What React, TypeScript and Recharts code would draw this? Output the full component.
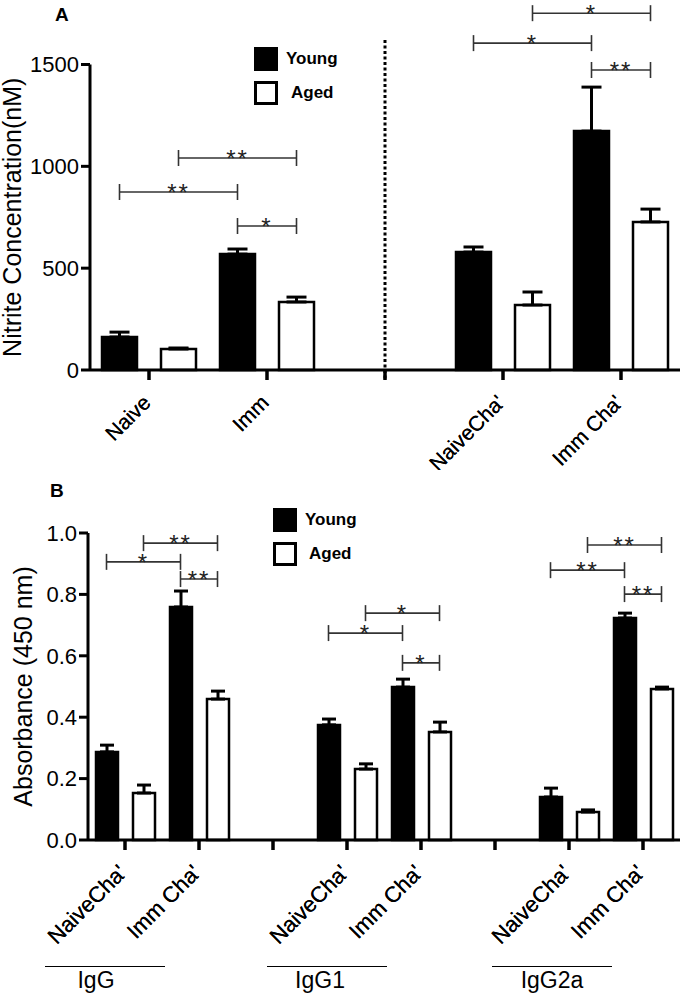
import { BarChart, Bar, XAxis, YAxis, Cell, ErrorBar, ReferenceLine, Legend } from 'recharts';

const FONT = "'Liberation Sans', Arial, Helvetica, sans-serif";
const AGES = ['Young', 'Aged'];

// ---- Panel A: nitrite concentration ----
const slotsA = ['Naive', 'Imm', 'gap', "NaiveCha'", "Imm Cha'"];
const youngA = [162, 569, 579, 1173];
const youngSemA = [24, 25, 25, 216];
const agedA = [103, 334, 319, 727];
const agedSemA = [5, 24, 64, 63];
const ticksA = [0, 500, 1000, 1500];
const sigA = [
  { from: 'Naive#Young', to: 'Imm#Young', y: 874, mark: '**' },
  { from: 'Naive#Aged', to: 'Imm#Aged', y: 1041, mark: '**' },
  { from: 'Imm#Young', to: 'Imm#Aged', y: 707, mark: '*' },
  { from: "NaiveCha'#Young", to: "Imm Cha'#Young", y: 1605, mark: '*' },
  { from: "NaiveCha'#Aged", to: "Imm Cha'#Aged", y: 1752, mark: '*' },
  { from: "Imm Cha'#Young", to: "Imm Cha'#Aged", y: 1473, mark: '**' },
];

// ---- Panel B: absorbance ----
const isotypesB = ['IgG', 'IgG1', 'IgG2a'];
const conditionsB = ["NaiveCha'", "Imm Cha'"];
const youngB = [0.287, 0.759, 0.375, 0.498, 0.14, 0.723];
const youngSemB = [0.022, 0.052, 0.019, 0.026, 0.029, 0.016];
const agedB = [0.153, 0.459, 0.231, 0.352, 0.091, 0.492];
const agedSemB = [0.026, 0.026, 0.017, 0.032, 0.007, 0.006];
const ticksB = [0, 0.2, 0.4, 0.6, 0.8, 1.0];
const sigB = [
  { from: "IgG|NaiveCha'#Young", to: "IgG|Imm Cha'#Young", y: 0.906, mark: '*' },
  { from: "IgG|NaiveCha'#Aged", to: "IgG|Imm Cha'#Aged", y: 0.967, mark: '**' },
  { from: "IgG|Imm Cha'#Young", to: "IgG|Imm Cha'#Aged", y: 0.85, mark: '**' },
  { from: "IgG1|NaiveCha'#Young", to: "IgG1|Imm Cha'#Young", y: 0.674, mark: '*' },
  { from: "IgG1|NaiveCha'#Aged", to: "IgG1|Imm Cha'#Aged", y: 0.739, mark: '*' },
  { from: "IgG1|Imm Cha'#Young", to: "IgG1|Imm Cha'#Aged", y: 0.577, mark: '*' },
  { from: "IgG2a|NaiveCha'#Young", to: "IgG2a|Imm Cha'#Young", y: 0.879, mark: '**' },
  { from: "IgG2a|NaiveCha'#Aged", to: "IgG2a|Imm Cha'#Aged", y: 0.961, mark: '**' },
  { from: "IgG2a|Imm Cha'#Young", to: "IgG2a|Imm Cha'#Aged", y: 0.801, mark: '**' },
];
const slotsB = isotypesB.flatMap((iso, i) => [
  ...conditionsB.map((c) => `${iso}|${c}`),
  ...(i < isotypesB.length - 1 ? [`gap${i}`] : []),
]);
const isoLineX = [45, 267, 492];
const isoTextX = [96, 320, 552];

type Row = { bar: string; slot: string; age: string; value: number | null; err: number[] | null };

function buildRows(slots: string[], young: number[], youngSem: number[], aged: number[], agedSem: number[]) {
  const rows: Row[] = [];
  let k = 0;
  slots.forEach((slot) => {
    const gap = slot.startsWith('gap');
    AGES.forEach((age) => {
      const v = gap ? null : age === 'Young' ? young[k] : aged[k];
      const e = gap ? null : age === 'Young' ? youngSem[k] : agedSem[k];
      rows.push({ bar: `${slot}#${age}`, slot, age, value: v, err: e == null ? null : [0, e] });
    });
    if (!gap) k++;
  });
  return rows;
}

const slotLabel = (s: string) => (s.startsWith('gap') ? '' : s.split('|').pop());

const SlotTick = (props: any) => {
  const { x, y, payload, fs } = props;
  const ax = x + 3;
  const ay = y + 22;
  return (
    <text x={ax} y={ay} textAnchor="end" transform={`rotate(-45, ${ax}, ${ay})`} fontSize={fs} fontFamily={FONT} fill="#000">
      {slotLabel(payload.value)}
    </text>
  );
};

const bracket = (mark: string) => (props: any) => {
  const { x1, x2, y1 } = props;
  return (
    <g>
      <line x1={x1} y1={y1} x2={x2} y2={y1} stroke="#333" strokeWidth={1.6} />
      <line x1={x1} y1={y1 - 8} x2={x1} y2={y1 + 8} stroke="#333" strokeWidth={1.6} />
      <line x1={x2} y1={y1 - 8} x2={x2} y2={y1 + 8} stroke="#333" strokeWidth={1.6} />
      <text x={(x1 + x2) / 2} y={y1 + 9} textAnchor="middle" fontSize={24} letterSpacing={2} fontFamily={FONT} fill="#222">
        {mark}
      </text>
    </g>
  );
};

const LegendBox = ({ textGap }: { textGap: number[] }) => (
  <div style={{ fontFamily: FONT, fontWeight: 'bold', fontSize: 17, color: '#000' }}>
    {AGES.map((age, i) => (
      <div key={age} style={{ display: 'flex', alignItems: 'center', height: 24, marginBottom: 10 }}>
        <div
          style={{
            width: 18,
            height: 18,
            border: '3px solid #000',
            background: age === 'Young' ? '#000' : '#fff',
          }}
        />
        <span style={{ marginLeft: textGap[i] }}>{age}</span>
      </div>
    ))}
  </div>
);

function Panel(p: any) {
  const rows = buildRows(p.slots, p.young, p.youngSem, p.aged, p.agedSem);
  return (
    <div style={{ position: 'absolute', left: 0, top: p.top, width: 683, height: p.height }}>
      <BarChart width={683} height={p.height} data={rows} margin={p.margin}>
        <XAxis xAxisId="bars" dataKey="bar" hide height={0} />
        <XAxis
          xAxisId="group"
          dataKey="slot"
          allowDuplicatedCategory={false}
          scale="band"
          height={60}
          interval={0}
          tickSize={10}
          axisLine={{ stroke: '#000', strokeWidth: 3 }}
          tickLine={{ stroke: '#000', strokeWidth: 3 }}
          tick={(t: any) => <SlotTick {...t} fs={p.tickFs} />}
        />
        <YAxis
          domain={p.domain}
          ticks={p.ticks}
          interval={0}
          width={p.yWidth}
          tickSize={9}
          tickFormatter={p.fmt}
          axisLine={{ stroke: '#000', strokeWidth: 3 }}
          tickLine={{ stroke: '#000', strokeWidth: 3 }}
          tick={{ fill: '#000', fontSize: 22, fontFamily: FONT }}
          label={{
            value: p.yLabel,
            angle: -90,
            position: 'insideLeft',
            offset: p.labelOffset,
            style: { textAnchor: 'middle', fontSize: 25, fontFamily: FONT, fill: '#000' },
          }}
        />
        <Bar xAxisId="bars" dataKey="value" barSize={p.barSize} stroke="#000" strokeWidth={2.5} isAnimationActive={false}>
          {rows.map((r) => (
            <Cell key={r.bar} fill={r.age === 'Young' ? '#000' : '#fff'} />
          ))}
          <ErrorBar dataKey="err" width={p.capW} stroke="#000" strokeWidth={3} />
        </Bar>
        {p.sig.map((s: any) => (
          <ReferenceLine
            key={s.from + s.to}
            xAxisId="bars"
            segment={[{ x: s.from, y: s.y }, { x: s.to, y: s.y }]}
            ifOverflow="visible"
            shape={bracket(s.mark)}
          />
        ))}
        {p.separator && (
          <ReferenceLine
            xAxisId="group"
            segment={[{ x: 'gap', y: p.separator[0] }, { x: 'gap', y: p.separator[1] }]}
            ifOverflow="visible"
            stroke="#000"
            strokeWidth={3}
            strokeDasharray="3 2.5"
          />
        )}
        <Legend
          layout="vertical"
          verticalAlign="middle"
          align="center"
          wrapperStyle={{ left: p.legendPos[0], top: p.legendPos[1], width: 130 }}
          content={() => <LegendBox textGap={p.legendGap} />}
        />
      </BarChart>
    </div>
  );
}

export default function App() {
  return (
    <div style={{ position: 'absolute', left: 0, top: 0, width: 683, height: 995, background: '#fff', fontFamily: FONT }}>
      <div style={{ position: 'absolute', left: 55, top: 5, fontSize: 19, lineHeight: '19px', fontWeight: 'bold' }}>A</div>
      <Panel
        top={0}
        height={470}
        margin={{ top: 64.5, right: 3, bottom: 40, left: 0 }}
        slots={slotsA}
        young={youngA}
        youngSem={youngSemA}
        aged={agedA}
        agedSem={agedSemA}
        domain={[0, 1500]}
        ticks={ticksA}
        fmt={(v: number) => String(v)}
        yWidth={90}
        yLabel="Nitrite Concentration(nM)"
        labelOffset={12}
        tickFs={21}
        barSize={35}
        capW={10}
        sig={sigA}
        separator={[1620, -50]}
        legendPos={[254, 47]}
        legendGap={[8, 13]}
      />
      <div style={{ position: 'absolute', left: 50, top: 481, fontSize: 19, lineHeight: '19px', fontWeight: 'bold' }}>B</div>
      <Panel
        top={480}
        height={480}
        margin={{ top: 53, right: 3, bottom: 60, left: 0 }}
        slots={slotsB}
        young={youngB}
        youngSem={youngSemB}
        aged={agedB}
        agedSem={agedSemB}
        domain={[0, 1]}
        ticks={ticksB}
        fmt={(v: number) => v.toFixed(1)}
        yWidth={88}
        yLabel="Absorbance (450 nm)"
        labelOffset={23}
        tickFs={22}
        barSize={22}
        capW={7}
        sig={sigB}
        legendPos={[273, 28]}
        legendGap={[8, 12]}
      />
      {isotypesB.map((iso, i) => (
        <div key={iso}>
          <div style={{ position: 'absolute', left: isoLineX[i], top: 966, width: 120, borderTop: '1.5px solid #000' }} />
          <div
            style={{
              position: 'absolute',
              left: isoTextX[i] - 50,
              top: 969,
              width: 100,
              textAlign: 'center',
              fontSize: 23,
              lineHeight: '23px',
            }}
          >
            {iso}
          </div>
        </div>
      ))}
    </div>
  );
}
